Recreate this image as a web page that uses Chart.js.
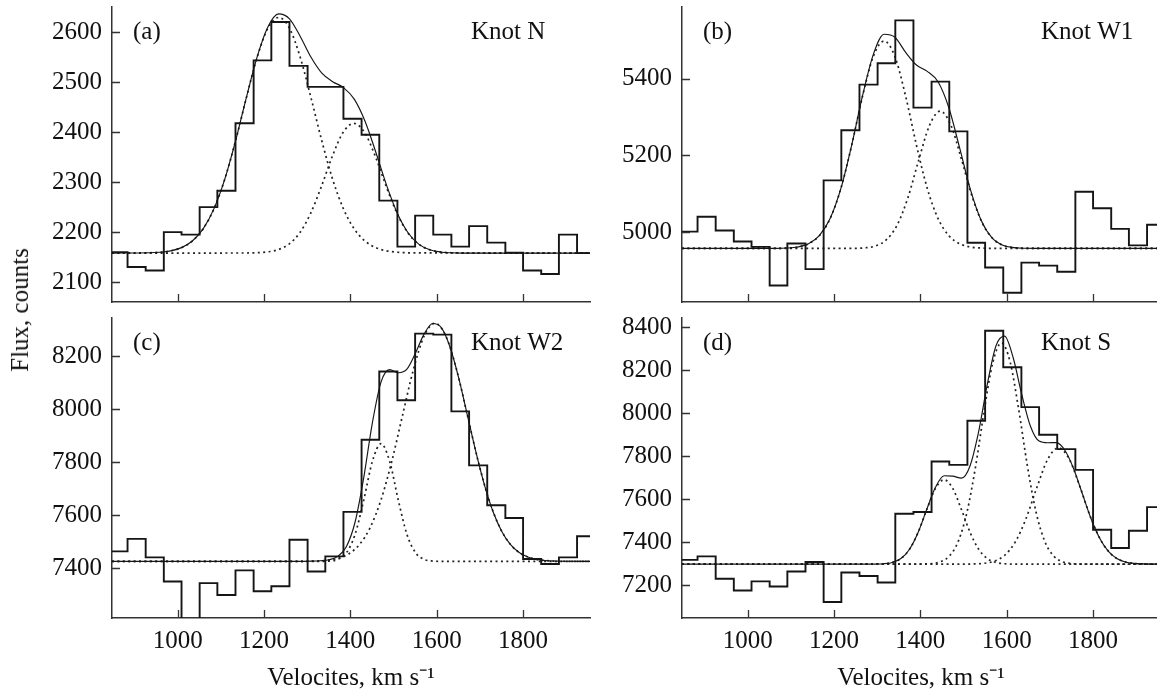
<!DOCTYPE html>
<html><head><meta charset="utf-8">
<script src="https://cdn.jsdelivr.net/npm/chart.js@4.4.1/dist/chart.umd.min.js"></script>
<style>
html,body{margin:0;padding:0;background:#fff;width:1157px;height:694px;overflow:hidden;position:relative;}
canvas.panel{position:absolute;}
#ylab{position:absolute;left:20px;top:310px;transform:translate(-50%,-50%) rotate(-90deg);font:25px 'Liberation Serif',serif;white-space:nowrap;color:#111;}
</style></head><body>
<canvas id="cA" class="panel" style="left:0;top:-40px;width:620px;height:367px" width="620" height="367"></canvas>
<canvas id="cB" class="panel" style="left:570px;top:-40px;width:620px;height:367px" width="620" height="367"></canvas>
<canvas id="cC" class="panel" style="left:0;top:271px;width:620px;height:429px" width="620" height="429"></canvas>
<canvas id="cD" class="panel" style="left:570px;top:271px;width:620px;height:429px" width="620" height="429"></canvas>
<div id="ylab">Flux, counts</div>
<script>
// ---- shared axis data ----
const binEdges = [843, 884, 926, 968, 1009, 1051, 1092, 1134, 1176, 1217, 1259, 1301, 1342, 1384, 1426, 1467, 1509, 1550, 1592, 1634, 1675, 1717, 1759, 1800, 1842, 1883, 1925, 1967];
const xTicks = [1000, 1200, 1400, 1600, 1800];
const xRange = [848, 1955];

// ---- (a) Knot N ----
const countsN = [2160, 2130, 2123, 2200, 2195, 2250, 2283, 2418, 2544, 2621, 2533, 2491, 2491, 2427, 2395, 2263, 2171, 2233, 2195, 2171, 2212, 2179, 2159, 2123, 2116, 2195, 2158];
const yTicksN = [2100, 2200, 2300, 2400, 2500, 2600];
const yRangeN = [2060, 2651];
const fitN_x = [848, 934, 959, 984, 1009, 1034, 1059, 1084, 1109, 1134, 1159, 1184, 1209, 1234, 1259, 1284, 1309, 1334, 1359, 1384, 1409, 1434, 1459, 1484, 1509, 1534, 1559, 1584, 1609, 1634, 1659, 1955];
const fitN_total = [2158, 2158.6, 2159.7, 2162.5, 2168.9, 2182.1, 2206.4, 2246.6, 2305.7, 2382.4, 2468.9, 2550.6, 2611, 2637.2, 2627.4, 2592, 2550.2, 2518.4, 2501.4, 2489.5, 2466.4, 2422.1, 2360, 2293.7, 2237.4, 2198.3, 2175.5, 2164.7, 2160.2, 2158.6, 2158, 2158];
const compN1_x = [848, 934, 959, 984, 1009, 1034, 1059, 1084, 1109, 1134, 1159, 1184, 1209, 1234, 1259, 1284, 1309, 1334, 1359, 1384, 1409, 1434, 1459, 1484, 1509, 1534, 1955];
const compN1_y = [2158, 2158.6, 2159.7, 2162.5, 2168.9, 2182.1, 2206.4, 2246.6, 2305.7, 2382.4, 2468.7, 2549.9, 2608.6, 2630, 2608.6, 2549.9, 2468.7, 2382.4, 2305.7, 2246.6, 2206.4, 2182.1, 2168.9, 2162.5, 2159.7, 2158.6, 2158];
const compN2_x = [848, 1158, 1183, 1208, 1233, 1258, 1283, 1308, 1333, 1358, 1383, 1408, 1433, 1458, 1483, 1508, 1533, 1558, 1583, 1608, 1633, 1658, 1955];
const compN2_y = [2158, 2158.2, 2158.7, 2160.3, 2164.9, 2176.1, 2198.9, 2237.6, 2291.6, 2351.4, 2399.5, 2418, 2399.5, 2351.4, 2291.6, 2237.6, 2198.9, 2176.1, 2164.9, 2160.3, 2158.7, 2158.2, 2158];

// ---- (b) Knot W1 ----
const countsW1 = [5001, 5040, 5004, 4975, 4961, 4860, 4970, 4903, 5135, 5266, 5385, 5441, 5553, 5325, 5393, 5263, 4972, 4907, 4841, 4920, 4912, 4896, 5105, 5062, 5008, 4965, 5019];
const yTicksW1 = [5000, 5200, 5400];
const yRangeW1 = [4817, 5588];
const fitW1_x = [848, 1066, 1091, 1116, 1141, 1166, 1191, 1216, 1241, 1266, 1291, 1316, 1341, 1366, 1391, 1416, 1441, 1466, 1491, 1516, 1541, 1566, 1591, 1616, 1641, 1666, 1955];
const fitW1_total = [4957, 4957.2, 4958, 4960.8, 4969.2, 4990.3, 5035.1, 5113.9, 5227, 5355.6, 5463.6, 5516.7, 5509, 5469.4, 5436.3, 5419.8, 5392.5, 5324.6, 5219.6, 5110.9, 5030, 4984.9, 4965.5, 4959.1, 4957.4, 4957, 4957];
const compW1a_x = [848, 1066, 1091, 1116, 1141, 1166, 1191, 1216, 1241, 1266, 1291, 1316, 1341, 1366, 1391, 1416, 1441, 1466, 1491, 1516, 1541, 1566, 1955];
const compW1a_y = [4957, 4957.2, 4958, 4960.8, 4969.2, 4990.3, 5035.1, 5113.9, 5226.8, 5354.5, 5458.6, 5499, 5458.6, 5354.5, 5226.8, 5113.9, 5035.1, 4990.3, 4969.2, 4960.8, 4958, 4957.2, 4957];
const compW1b_x = [848, 1246, 1271, 1296, 1321, 1346, 1371, 1396, 1421, 1446, 1471, 1496, 1521, 1546, 1571, 1596, 1621, 1646, 1955];
const compW1b_y = [4957, 4957.3, 4958.5, 4963.5, 4979.2, 5017.5, 5088.9, 5187, 5278.2, 5316, 5278.2, 5187, 5088.9, 5017.5, 4979.2, 4963.5, 4958.5, 4957.3, 4957];

// ---- (c) Knot W2 ----
const countsW2 = [7463, 7510, 7440, 7349, 7170, 7343, 7298, 7391, 7312, 7331, 7507, 7387, 7444, 7612, 7885, 8143, 8034, 8286, 8282, 7992, 7788, 7637, 7589, 7434, 7415, 7440, 7520];
const yTicksW2 = [7400, 7600, 7800, 8000, 8200];
const yRangeW2 = [7211, 8345];
const fitW2_x = [848, 1291, 1311, 1331, 1351, 1371, 1391, 1411, 1431, 1451, 1471, 1491, 1511, 1531, 1551, 1571, 1591, 1611, 1631, 1651, 1671, 1691, 1711, 1731, 1751, 1771, 1791, 1811, 1831, 1851, 1871, 1891, 1955];
const fitW2_total = [7425, 7425.3, 7425.8, 7427.3, 7431.3, 7443.8, 7481.4, 7573.9, 7741.9, 7948.8, 8102.7, 8149.6, 8138.1, 8151.7, 8213, 8285.1, 8324.3, 8307.8, 8234.5, 8117.7, 7978, 7837, 7711.5, 7610.8, 7537.4, 7488.5, 7458.5, 7441.5, 7432.6, 7428.2, 7426.3, 7425.5, 7425];
const compW2a_x = [848, 1331, 1351, 1371, 1391, 1411, 1431, 1451, 1471, 1491, 1511, 1531, 1551, 1571, 1591, 1611, 1955];
const compW2a_y = [7425, 7425.2, 7426.2, 7432.5, 7457.7, 7527.4, 7656.6, 7803, 7870, 7803, 7656.6, 7527.4, 7457.7, 7432.5, 7426.2, 7425.2, 7425];
const compW2b_x = [848, 1296, 1321, 1346, 1371, 1396, 1421, 1446, 1471, 1496, 1521, 1546, 1571, 1596, 1621, 1646, 1671, 1696, 1721, 1746, 1771, 1796, 1821, 1846, 1871, 1896, 1955];
const compW2b_y = [7425, 7425.4, 7426.3, 7429, 7436.3, 7453.2, 7488.5, 7553.3, 7657.7, 7803.7, 7978, 8149.9, 8277.6, 8325, 8277.6, 8149.9, 7978, 7803.7, 7657.7, 7553.3, 7488.5, 7453.2, 7436.3, 7429, 7426.3, 7425.4, 7425];

// ---- (d) Knot S ----
const countsS = [7319, 7335, 7231, 7177, 7219, 7195, 7265, 7309, 7123, 7260, 7244, 7214, 7533, 7541, 7776, 7760, 7965, 8383, 8213, 8028, 7900, 7833, 7737, 7459, 7374, 7454, 7564];
const yTicksS = [7200, 7400, 7600, 7800, 8000, 8200, 8400];
const yRangeS = [7049, 8442];
const fitS_x = [848, 1275, 1295, 1315, 1335, 1355, 1375, 1395, 1415, 1435, 1455, 1475, 1495, 1515, 1535, 1555, 1575, 1595, 1615, 1635, 1655, 1675, 1695, 1715, 1735, 1755, 1775, 1795, 1815, 1835, 1855, 1875, 1895, 1915, 1935, 1955];
const fitS_total = [7299, 7299.1, 7299.4, 7301, 7307, 7325.2, 7368.5, 7447.3, 7554.5, 7655.9, 7709.7, 7707.9, 7698.3, 7755, 7914.2, 8133.8, 8312.2, 8357.5, 8257.5, 8085.6, 7939.4, 7870.6, 7862.9, 7863.5, 7827, 7741.9, 7626.9, 7512.1, 7420.5, 7359.6, 7325.6, 7309.2, 7302.4, 7300, 7299.3, 7299];
const compSa_x = [848, 1275, 1295, 1315, 1335, 1355, 1375, 1395, 1415, 1435, 1455, 1475, 1495, 1515, 1535, 1555, 1575, 1595, 1615, 1635, 1955];
const compSa_y = [7299, 7299.1, 7299.4, 7301, 7307, 7325.2, 7368.5, 7447.1, 7553.3, 7650.8, 7691, 7650.8, 7553.3, 7447.1, 7368.5, 7325.2, 7307, 7301, 7299.4, 7299.1, 7299];
const compSb_x = [848, 1388, 1408, 1428, 1448, 1468, 1488, 1508, 1528, 1548, 1568, 1588, 1608, 1628, 1648, 1668, 1688, 1708, 1728, 1748, 1768, 1788, 1955];
const compSb_y = [7299, 7299.1, 7299.7, 7302.1, 7311.2, 7338.5, 7405.8, 7540.2, 7753.7, 8014, 8237, 8326, 8237, 8014, 7753.7, 7540.2, 7405.8, 7338.5, 7311.2, 7302.1, 7299.7, 7299.1, 7299];
const compSc_x = [848, 1495, 1520, 1545, 1570, 1595, 1620, 1645, 1670, 1695, 1720, 1745, 1770, 1795, 1820, 1845, 1870, 1895, 1920, 1945, 1955];
const compSc_y = [7299, 7299.1, 7299.7, 7302.4, 7312.1, 7339.8, 7402.4, 7512.1, 7656.2, 7786, 7839, 7786, 7656.2, 7512.1, 7402.4, 7339.8, 7312.1, 7302.4, 7299.7, 7299.1, 7299];

// ---- helpers ----
const INK = '#151515';
const FONT = "'Liberation Serif', 'Times New Roman', serif";
Chart.defaults.font.family = FONT;
Chart.defaults.font.size = 25;
Chart.defaults.color = '#111';

function zip(xs, ys) { return xs.map((x, i) => ({x: x, y: ys[i]})); }
function histPoints(counts) {
  return binEdges.map((e, i) => ({x: e, y: counts[Math.min(i, counts.length - 1)]}));
}

const panelDecor = {
  id: 'panelDecor',
  afterDatasetsDraw(chart, args, opts) {
    const {ctx, chartArea: a, scales} = chart;
    const x = scales.x, y = scales.y;
    ctx.save();
    ctx.strokeStyle = '#333';
    ctx.lineWidth = 1.3;
    ctx.beginPath();
    x.ticks.forEach(t => { const px = Math.round(x.getPixelForValue(t.value)) + 0.5; ctx.moveTo(px, a.bottom); ctx.lineTo(px, a.bottom - 8); });
    y.ticks.forEach(t => { const py = Math.round(y.getPixelForValue(t.value)) + 0.5; ctx.moveTo(a.left, py); ctx.lineTo(a.left + 8, py); });
    ctx.stroke();
    ctx.fillStyle = '#111';
    ctx.font = '25px ' + FONT;
    ctx.textBaseline = 'middle';
    ctx.textAlign = 'left';
    ctx.fillText(opts.tag, a.left + 21, a.top + 25);
    ctx.fillText(opts.name, a.left + 359, a.top + 25);
    ctx.restore();
  }
};

function makePanel(id, cfg) {
  const solid = {borderColor: INK, pointRadius: 0, fill: false, clip: 0, cubicInterpolationMode: 'monotone', borderWidth: 1.15};
  const dotted = Object.assign({}, solid, {borderDash: [2, 3.4], borderWidth: 1.7, borderColor: '#222'});
  const datasets = [
    {data: histPoints(cfg.counts), stepped: 'before', borderColor: INK, borderWidth: 1.9, pointRadius: 0, fill: false, clip: 0},
    Object.assign({data: zip(cfg.fitX, cfg.fitY)}, solid)
  ];
  cfg.comps.forEach(c => datasets.push(Object.assign({data: zip(c[0], c[1])}, dotted)));
  return new Chart(document.getElementById(id), {
    type: 'line',
    data: {datasets: datasets},
    options: {
      responsive: false,
      animation: false,
      events: [],
      layout: {padding: {top: 47, right: 30, bottom: 0, left: 0}},
      plugins: {legend: {display: false}, tooltip: {enabled: false}, panelDecor: {tag: cfg.tag, name: cfg.name}},
      scales: {
        x: {
          type: 'linear', min: xRange[0], max: xRange[1],
          grid: {display: false, drawTicks: false},
          border: {display: true, color: '#333', width: 1.5},
          afterBuildTicks: s => { s.ticks = xTicks.map(v => ({value: v})); },
          afterFit: s => { s.height = cfg.showX ? 82 : 20; },
          ticks: {display: cfg.showX, padding: 8, maxRotation: 0, autoSkip: false, callback: v => String(v)},
          title: {display: cfg.showX, text: 'Velocites, km s\u207B\u00B9', padding: {top: 0, bottom: 7}, font: {size: 25}}
        },
        y: {
          type: 'linear', min: cfg.yRange[0], max: cfg.yRange[1],
          grid: {display: false, drawTicks: false},
          border: {display: true, color: '#333', width: 1.5},
          afterBuildTicks: s => { s.ticks = cfg.yTicks.map(v => ({value: v})); },
          afterFit: s => { s.width = 112; },
          ticks: {padding: 10, autoSkip: false, callback: v => String(v)}
        }
      }
    },
    plugins: [panelDecor]
  });
}

makePanel('cA', {counts: countsN, fitX: fitN_x, fitY: fitN_total, comps: [[compN1_x, compN1_y], [compN2_x, compN2_y]], yRange: yRangeN, yTicks: yTicksN, tag: '(a)', name: 'Knot N', showX: false});
makePanel('cB', {counts: countsW1, fitX: fitW1_x, fitY: fitW1_total, comps: [[compW1a_x, compW1a_y], [compW1b_x, compW1b_y]], yRange: yRangeW1, yTicks: yTicksW1, tag: '(b)', name: 'Knot W1', showX: false});
makePanel('cC', {counts: countsW2, fitX: fitW2_x, fitY: fitW2_total, comps: [[compW2a_x, compW2a_y], [compW2b_x, compW2b_y]], yRange: yRangeW2, yTicks: yTicksW2, tag: '(c)', name: 'Knot W2', showX: true});
makePanel('cD', {counts: countsS, fitX: fitS_x, fitY: fitS_total, comps: [[compSa_x, compSa_y], [compSb_x, compSb_y], [compSc_x, compSc_y]], yRange: yRangeS, yTicks: yTicksS, tag: '(d)', name: 'Knot S', showX: true});
</script>
</body></html>
